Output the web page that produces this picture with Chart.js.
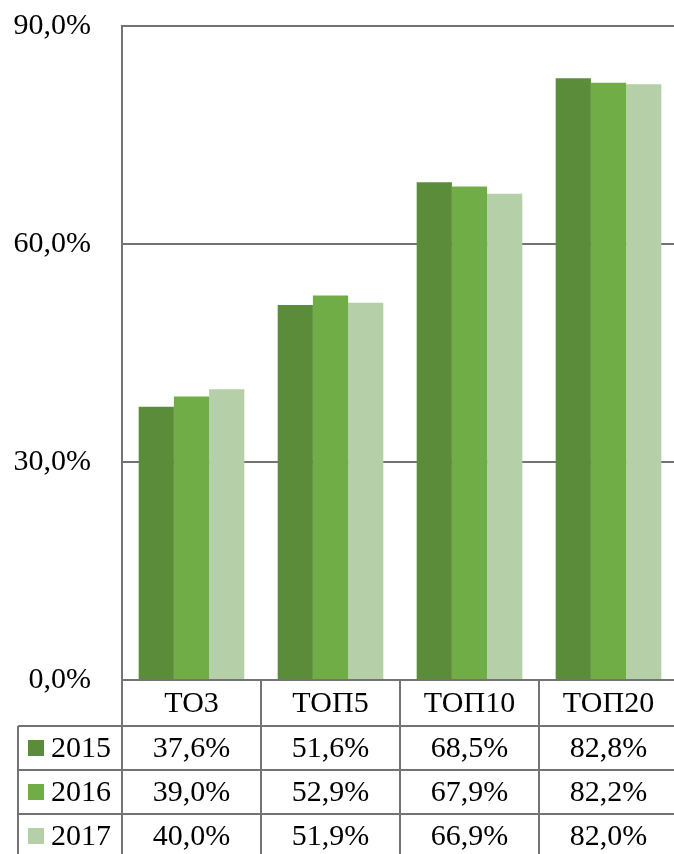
<!DOCTYPE html>
<html>
<head>
<meta charset="utf-8">
<script src="https://cdn.jsdelivr.net/npm/chart.js@4"></script>
<style>
  html, body { margin: 0; padding: 0; background: #ffffff; overflow: hidden; }
  #chart { display: block; }
</style>
</head>
<body>
<!-- a little wider than the window: the right edge of the table is cut off, as in the picture -->
<canvas id="chart" width="678" height="854"></canvas>
<script>
// categories and series
const categories = ["ТО3", "ТОП5", "ТОП10", "ТОП20"];
const years = ["2015", "2016", "2017"];
const values2015 = [37.6, 51.6, 68.5, 82.8];
const values2016 = [39.0, 52.9, 67.9, 82.2];
const values2017 = [40.0, 51.9, 66.9, 82.0];
const yTicks = [0, 30, 60, 90];

const colors = ["#5b8c3a", "#70ad47", "#b5cfa8"];
const lineColor = "#737373";
const fontFamily = "'Liberation Serif', 'Times New Roman', serif";

function pct(v) {
    return v.toFixed(1).replace(".", ",") + "%";
}

const seriesValues = [values2015, values2016, values2017];

/**
 * Data table drawn under the plot area
 */
const dataTable = {
    id: "dataTable",
    afterDraw(chart) {
        const ctx = chart.ctx;
        const area = chart.chartArea;
        const colW = (area.right - area.left) / categories.length;
        const headerH = 46;
        const rowH = 44;
        const legendLeft = 18;
        const top = area.bottom;
        const bottom = chart.height + 4;

        ctx.save();
        ctx.strokeStyle = lineColor;
        ctx.lineWidth = 2;

        // horizontal lines
        ctx.beginPath();
        ctx.moveTo(area.left, top);
        ctx.lineTo(area.right, top);
        for (let r = 0; r < years.length; r++) {
            const y = top + headerH + r * rowH;
            ctx.moveTo(legendLeft, y);
            ctx.lineTo(area.right, y);
        }
        // vertical lines
        for (let i = 0; i <= categories.length; i++) {
            const x = area.left + i * colW;
            ctx.moveTo(x, top);
            ctx.lineTo(x, bottom);
        }
        ctx.moveTo(legendLeft, top + headerH);
        ctx.lineTo(legendLeft, bottom);
        ctx.stroke();

        ctx.fillStyle = "#000000";
        ctx.font = "30px " + fontFamily;
        ctx.textBaseline = "middle";

        // category header
        ctx.textAlign = "center";
        categories.forEach((c, i) => {
            ctx.fillText(c, area.left + (i + 0.5) * colW, top + headerH / 2 + 1);
        });

        // rows
        years.forEach((yr, r) => {
            const cy = top + headerH + r * rowH + rowH / 2 + 1;
            ctx.fillStyle = colors[r];
            ctx.fillRect(28, cy - 9, 16, 16);
            ctx.fillStyle = "#000000";
            ctx.textAlign = "left";
            ctx.fillText(yr, 51, cy);
            ctx.textAlign = "center";
            seriesValues[r].forEach((v, i) => {
                ctx.fillText(pct(v), area.left + (i + 0.5) * colW, cy);
            });
        });
        ctx.restore();
    }
};

new Chart(document.getElementById("chart").getContext("2d"), {
    type: "bar",
    data: {
        labels: categories,
        datasets: years.map((yr, i) => ({
            label: yr,
            data: seriesValues[i],
            backgroundColor: colors[i],
            borderWidth: 0,
            categoryPercentage: 0.76,
            barPercentage: 1.0
        }))
    },
    options: {
        responsive: false,
        animation: false,
        devicePixelRatio: 1,
        layout: {
            padding: { left: 0, top: 26, right: 0, bottom: 174 }
        },
        scales: {
            x: {
                display: false
            },
            y: {
                min: 0,
                max: 90,
                afterBuildTicks(scale) {
                    scale.ticks = yTicks.map(v => ({ value: v }));
                },
                afterFit(scale) {
                    scale.width = 122;
                    scale.paddingTop = 0;
                    scale.paddingBottom = 0;
                },
                border: {
                    display: true,
                    color: lineColor,
                    width: 2
                },
                grid: {
                    color: ctx => ctx.tick && ctx.tick.value === 0 ? "rgba(0,0,0,0)" : lineColor,
                    lineWidth: 2,
                    drawTicks: false
                },
                ticks: {
                    padding: 31,
                    color: "#000000",
                    font: { family: fontFamily, size: 30 },
                    callback: v => pct(v)
                }
            }
        },
        plugins: {
            legend: { display: false },
            tooltip: { enabled: false }
        }
    },
    plugins: [dataTable]
});
</script>
</body>
</html>
